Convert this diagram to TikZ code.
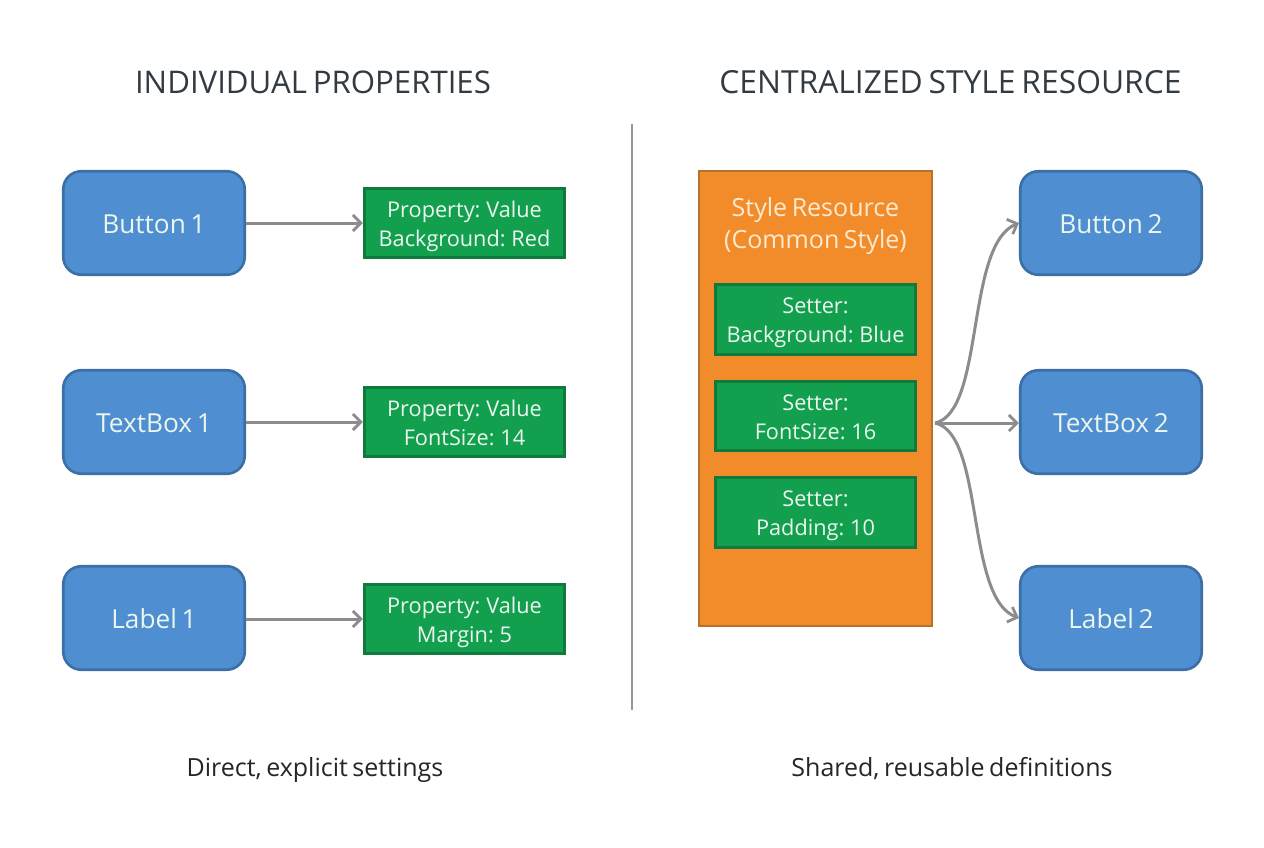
\documentclass[tikz,border=0pt]{standalone}
\usepackage{fontspec}
\setmainfont[WordSpace=0.7]{Open Sans}
\usetikzlibrary{arrows.meta}
\definecolor{bluefill}{HTML}{4F8ED0}
\definecolor{blueline}{HTML}{3B6FA6}
\definecolor{greenfill}{HTML}{13A04E}
\definecolor{greenline}{HTML}{0F7A3C}
\definecolor{orangefill}{HTML}{F28C2A}
\definecolor{orangeline}{HTML}{B8702E}
\definecolor{conn}{HTML}{8C8C8C}
\definecolor{ink}{HTML}{333B42}
\definecolor{softwhite}{HTML}{EAF6EF}
\definecolor{cream}{HTML}{FBE9D0}
\tikzset{
  x=1pt,y=-1pt,
  bluebox/.style={draw=blueline,fill=bluefill,line width=2.6pt,rounded corners=18pt,minimum width=181.5pt,minimum height=103.5pt,inner sep=0pt,text=softwhite,text depth=0pt,font=\fontsize{26.2}{30}\selectfont},
  greenbox/.style={draw=greenline,fill=greenfill,line width=2.6pt,minimum width=200.5pt,minimum height=69.5pt,inner sep=0pt,align=center,text=softwhite,font=\fontsize{21.7}{29}\selectfont,
    execute at begin node={\rule[-7pt]{0pt}{60pt}}},
  orangebox/.style={draw=orangeline,fill=orangefill,line width=2.4pt,minimum width=233pt,minimum height=455pt,inner sep=0pt},
  heading/.style={text=ink,inner sep=0pt},
  caption/.style={text=black!85,inner sep=0pt,anchor=base,font=\fontsize{25}{28}\selectfont},
  link/.style={draw=conn,line width=3pt,-{Straight Barb[length=8pt,width=16pt,line width=2.8pt]}},
}
\begin{document}
\begin{tikzpicture}
\useasboundingbox[fill=white] (0,0) rectangle (1264,848);
\node[heading,font=\fontsize{31.2}{36}\selectfont] (t1) at (313,82) {INDIVIDUAL PROPERTIES};
\node[heading,font=\fontsize{31.8}{36}\selectfont] (t2) at (950.5,82) {CENTRALIZED STYLE RESOURCE};
\coordinate (dtop) at (632,124);
\coordinate (dbot) at (632,710);
\draw[draw=conn!90,line width=2.8pt] (dtop) -- (dbot);

\node[bluebox] (b1) at (154,223) {\raisebox{-2pt}{Button 1}};
\node[bluebox] (b2) at (154,422) {\raisebox{-2pt}{TextBox 1}};
\node[bluebox] (b3) at (154,618) {\raisebox{-2pt}{Label 1}};
\node[greenbox] (p1) at (464.5,223) {Property: Value\\Background: Red};
\node[greenbox] (p2) at (464.5,422) {Property: Value\\FontSize: 14};
\node[greenbox] (p3) at (464.5,619) {Property: Value\\Margin: 5};
\draw[link] (b1) -- (p1);
\draw[link] (b2) -- (p2);
\draw[link] (b3.east |- p3.west) -- (p3.west);

\node[orangebox] (res) at (815.5,398.5) {};
\node[text=cream,align=center,inner sep=0pt,font=\fontsize{25}{32}\selectfont] (rt) at (815.5,226) {Style Resource\\(Common Style)};
\node[greenbox] (s1) at (815.5,319.5) {Setter:\\Background: Blue};
\node[greenbox] (s2) at (815.5,416) {Setter:\\FontSize: 16};
\node[greenbox] (s3) at (815.5,512.5) {Setter:\\Padding: 10};

\node[bluebox] (c1) at (1111,223) {\raisebox{-2pt}{Button 2}};
\node[bluebox] (c2) at (1111,422) {\raisebox{-2pt}{TextBox 2}};
\node[bluebox] (c3) at (1111,618) {\raisebox{-2pt}{Label 2}};
\coordinate (fan) at (935,423);
\draw[link] (fan) .. controls (985,412) and (965,245) .. (c1.west);
\draw[link] (fan) -- (c2.west |- fan);
\draw[link] (fan) .. controls (985,434) and (965,598) .. (c3.west);

\node[caption] (l1) at (315,776) {Direct, explicit settings};
\node[caption] (l2) at (952,776) {Shared, reusable definitions};
\end{tikzpicture}
\end{document}
